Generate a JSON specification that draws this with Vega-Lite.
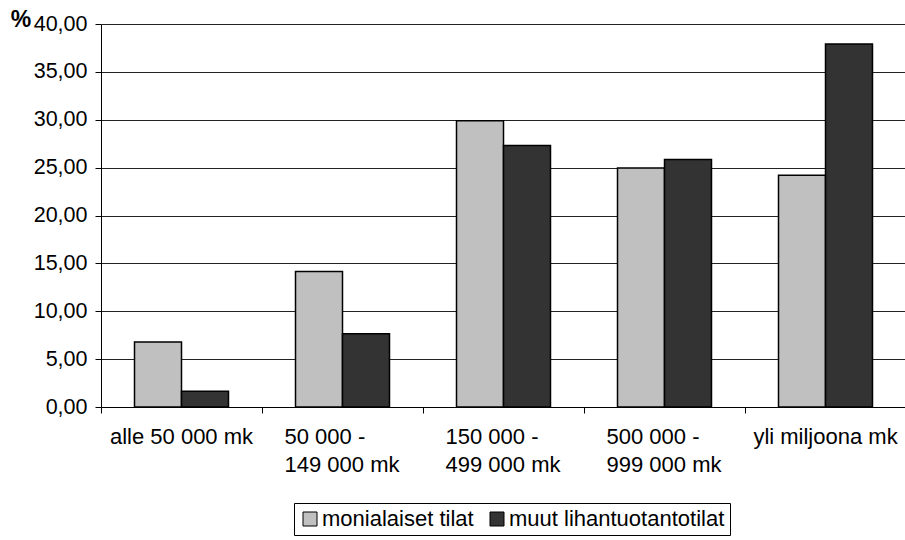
{
  "$schema": "https://vega.github.io/schema/vega-lite/v6.json",
  "autosize": "none",
  "padding": {"left": 101, "top": 24, "right": 0, "bottom": 133},
  "width": 805,
  "height": 383,
  "background": "white",
  "config": {
    "view": {"stroke": null},
    "font": "Liberation Sans",
    "axis": {"labelFont": "Liberation Sans", "titleFont": "Liberation Sans", "labelColor": "black", "titleColor": "black"},
    "legend": {"labelFont": "Liberation Sans"}
  },
  "data": {
    "values": [
      {"luokka": "alle 50 000 mk", "ryhma": "monialaiset tilat", "osuus": 6.8},
      {"luokka": "alle 50 000 mk", "ryhma": "muut lihantuotantotilat", "osuus": 1.65},
      {"luokka": "50 000 - 149 000 mk", "ryhma": "monialaiset tilat", "osuus": 14.15},
      {"luokka": "50 000 - 149 000 mk", "ryhma": "muut lihantuotantotilat", "osuus": 7.65},
      {"luokka": "150 000 - 499 000 mk", "ryhma": "monialaiset tilat", "osuus": 29.9},
      {"luokka": "150 000 - 499 000 mk", "ryhma": "muut lihantuotantotilat", "osuus": 27.3},
      {"luokka": "500 000 - 999 000 mk", "ryhma": "monialaiset tilat", "osuus": 24.95},
      {"luokka": "500 000 - 999 000 mk", "ryhma": "muut lihantuotantotilat", "osuus": 25.85},
      {"luokka": "yli miljoona mk", "ryhma": "monialaiset tilat", "osuus": 24.2},
      {"luokka": "yli miljoona mk", "ryhma": "muut lihantuotantotilat", "osuus": 37.9}
    ]
  },
  "mark": {"type": "bar", "stroke": "black", "strokeWidth": 1.5},
  "encoding": {
    "x": {
      "field": "luokka",
      "type": "nominal",
      "sort": null,
      "scale": {"paddingInner": 0, "paddingOuter": 0},
      "axis": {
        "title": null,
        "bandPosition": 0,
        "labelOffset": {"condition": {"test": "indexof(datum.value, ' - ') > 0", "value": -58}, "value": 0},
        "labelAngle": 0,
        "labelAlign": {"condition": {"test": "indexof(datum.value, ' - ') > 0", "value": "left"}, "value": "center"},
        "labelBaseline": "top",
        "labelFontSize": 22,
        "labelPadding": 13,
        "labelLineHeight": 28,
        "labelOverlap": false,
        "labelLimit": 0,
        "labelBound": false,
        "labelFlush": false,
        "tickSize": 6,
        "tickColor": "black",
        "domainColor": "black",
        "domainWidth": 1,
        "grid": false,
        "labelExpr": "indexof(datum.label, ' - ') > 0 ? [split(datum.label, ' - ')[0] + ' -', split(datum.label, ' - ')[1]] : datum.label"
      }
    },
    "xOffset": {
      "field": "ryhma",
      "type": "nominal",
      "sort": ["monialaiset tilat", "muut lihantuotantotilat"],
      "scale": {"paddingInner": 0, "paddingOuter": 0.713}
    },
    "y": {
      "field": "osuus",
      "type": "quantitative",
      "scale": {"domain": [0, 40], "nice": false},
      "axis": {
        "title": "%",
        "titleAngle": 0,
        "titleX": -80.5,
        "titleY": -5,
        "titleAlign": "center",
        "titleBaseline": "middle",
        "titleFontSize": 23,
        "titleFontWeight": "bold",
        "values": [0, 5, 10, 15, 20, 25, 30, 35, 40],
        "labelExpr": "replace(format(datum.value, '.2f'), '.', ',')",
        "labelFontSize": 21.5,
        "labelPadding": 8,
        "tickSize": 6,
        "tickColor": "black",
        "domainColor": "black",
        "grid": true,
        "gridColor": "#222222",
        "gridWidth": 1
      }
    },
    "color": {
      "field": "ryhma",
      "type": "nominal",
      "scale": {"domain": ["monialaiset tilat", "muut lihantuotantotilat"], "range": ["#c0c0c0", "#333333"]},
      "legend": {
        "title": null,
        "orient": "none",
        "legendX": 193,
        "legendY": 479,
        "direction": "horizontal",
        "strokeColor": "black",
        "fillColor": "white",
        "padding": 5,
        "symbolType": "square",
        "symbolSize": 196,
        "symbolStrokeColor": "black",
        "symbolStrokeWidth": 1,
        "symbolOpacity": 1,
        "labelFontSize": 22,
        "labelColor": "black",
        "labelOffset": 1,
        "labelLimit": 0,
        "columnPadding": 12
      }
    }
  }
}
